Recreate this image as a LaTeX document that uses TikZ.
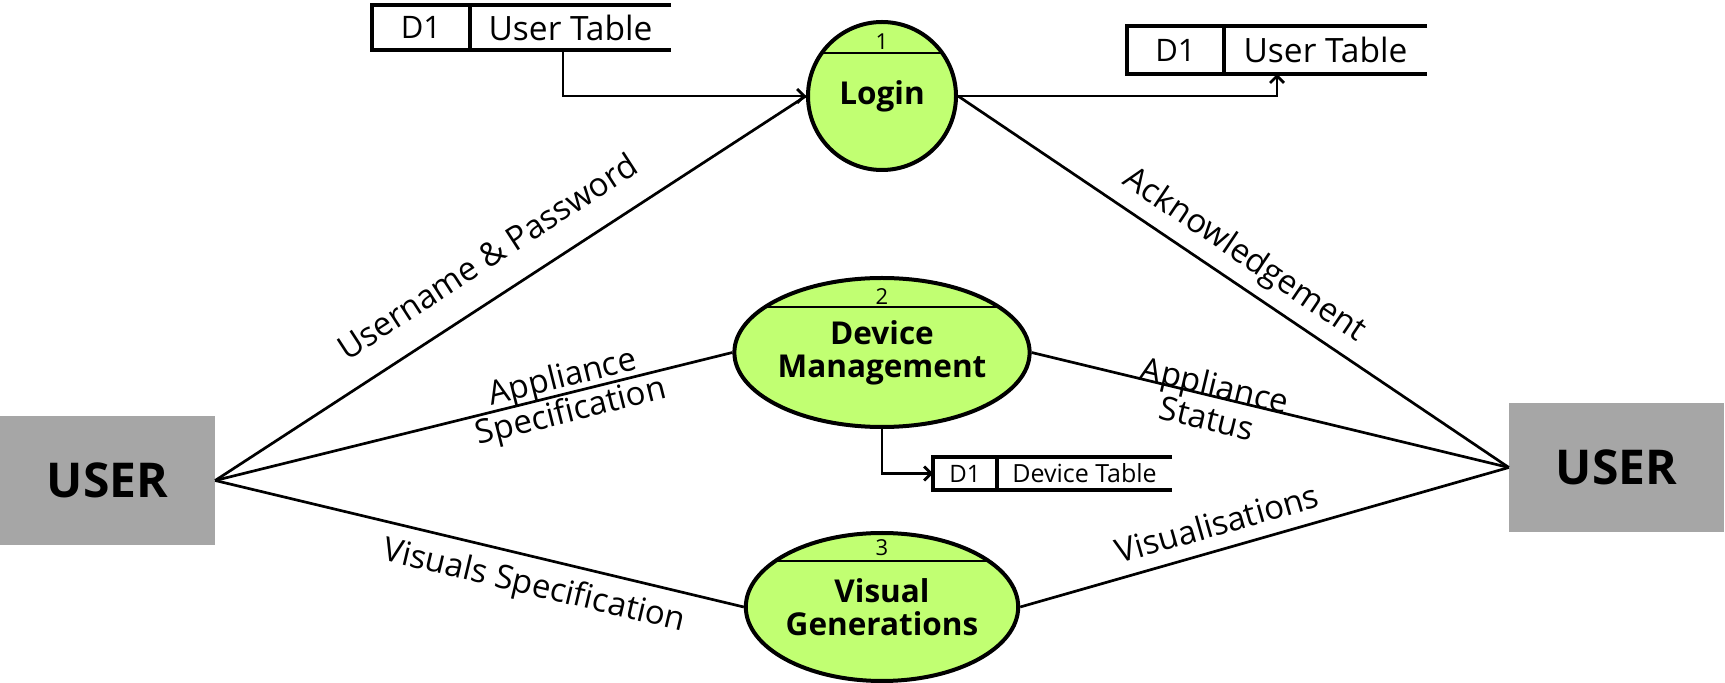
\documentclass[tikz,border=0pt]{standalone}
\usepackage{fontspec}
\setmainfont{Open Sans}
\usetikzlibrary{arrows.meta,positioning,shapes.geometric}
\definecolor{procgreen}{HTML}{C1FF72}
\definecolor{usergray}{HTML}{A6A6A6}

\begin{document}
\begin{tikzpicture}[x=1pt, y=1pt,
  entity/.style={fill=usergray, minimum width=215pt, minimum height=129pt, inner sep=0pt, font=\fontsize{48}{50}\selectfont\bfseries},
  proc/.style={draw, line width=4pt, fill=procgreen, inner sep=0pt, align=center, font=\fontsize{31.5}{33}\selectfont\bfseries,
    path picture={\draw[line width=2.7pt] ([yshift=-#1]path picture bounding box.north west) -- ([yshift=-#1]path picture bounding box.north east);}},
  procid/.style={inner sep=0pt, font=\fontsize{22}{24}\selectfont},
  flow/.style={line width=2.7pt},
  dataflow/.style={line width=2.7pt, -{Straight Barb[length=7pt,width=14pt]}},
  lbl/.style={inner sep=0pt, align=center, font=\fontsize{33}{35}\selectfont},
  storeline/.style={line width=4pt},
  storeid/.style={inner sep=0pt, outer sep=0pt, font=\fontsize{31}{33}\selectfont},
  storename/.style={inner sep=0pt, outer sep=0pt, font=\fontsize{33.5}{35}\selectfont},
]
\useasboundingbox (0,0) rectangle (1725,683);

% External entities
\node[entity] (userL) at (107.5,202.5) {USER};
\node[entity] (userR) at (1616.5,215.5) {USER};

% Processes
\node[proc=31, circle, minimum size=148pt] (login) at (882,587) {Login};
\node[procid] (loginid) at (882,641) {1};
\node[proc=29, ellipse, minimum width=290pt, minimum height=149pt] (devmgmt) at (882,330.5) {Device\\Management};
\node[procid] (devid) at (882,386) {2};
\node[proc=28, ellipse, minimum width=269pt, minimum height=148pt] (visgen) at (882,76) {Visual\\Generations};
\node[procid] (visid) at (882,135) {3};

% Data stores
\node[storeid, minimum width=98pt, minimum height=45pt] (st1id) at (421,655.5) {D1};
\node[storename, minimum width=201pt, minimum height=45pt, right=0pt of st1id] (st1) {User Table};
\draw[storeline] (st1.north east) -- (st1id.north west) -- (st1id.south west) -- (st1.south east);
\draw[storeline] (st1id.north east) -- (st1id.south east);

\node[storeid, minimum width=97pt, minimum height=48pt] (st2id) at (1175.5,633) {D1};
\node[storename, minimum width=203pt, minimum height=48pt, right=0pt of st2id] (st2) {User Table};
\draw[storeline] (st2.north east) -- (st2id.north west) -- (st2id.south west) -- (st2.south east);
\draw[storeline] (st2id.north east) -- (st2id.south east);

\node[storeid, minimum width=64pt, minimum height=33pt, font=\fontsize{24}{26}\selectfont] (st3id) at (965,209.5) {D1};
\node[storename, minimum width=175pt, minimum height=33pt, font=\fontsize{25}{27}\selectfont, right=0pt of st3id] (st3) {Device Table};
\draw[storeline] (st3.north east) -- (st3id.north west) -- (st3id.south west) -- (st3.south east);
\draw[storeline] (st3id.north east) -- (st3id.south east);

% Store connections
\draw[dataflow] ([xshift=-7.5pt]st1.south) |- (login.west);
\draw[dataflow] (login.east) -| ([xshift=-48.5pt]st2.south);
\draw[dataflow] (devmgmt.south) |- (st3id.west);

% User flows
\draw[flow] (userL.east) -- (login.west);
\draw[flow] (userL.east) -- (devmgmt.west);
\draw[flow] (userL.east) -- (visgen.west);
\draw[flow] (login.east) -- (userR.west);
\draw[flow] (devmgmt.east) -- (userR.west);
\draw[flow] (visgen.east) -- (userR.west);

% Flow labels
\node[lbl, rotate=33] (lblcred) at (487,427) {Username \& Password};
\node[lbl, rotate=14, font=\fontsize{33}{35}\selectfont] (lblspec) at (567,287) {Appliance\\Specification};
\node[lbl, rotate=-13.4] (lblvisspec) at (534,96) {Visuals Specification};
\node[lbl, rotate=-34] (lblack) at (1244,427) {Acknowledgement};
\node[lbl, rotate=-13.4, font=\fontsize{33}{34}\selectfont] (lblstatus) at (1211,282) {Appliance\\Status};
\node[lbl, rotate=16] (lblvis) at (1217,160) {Visualisations};
\end{tikzpicture}
\end{document}
